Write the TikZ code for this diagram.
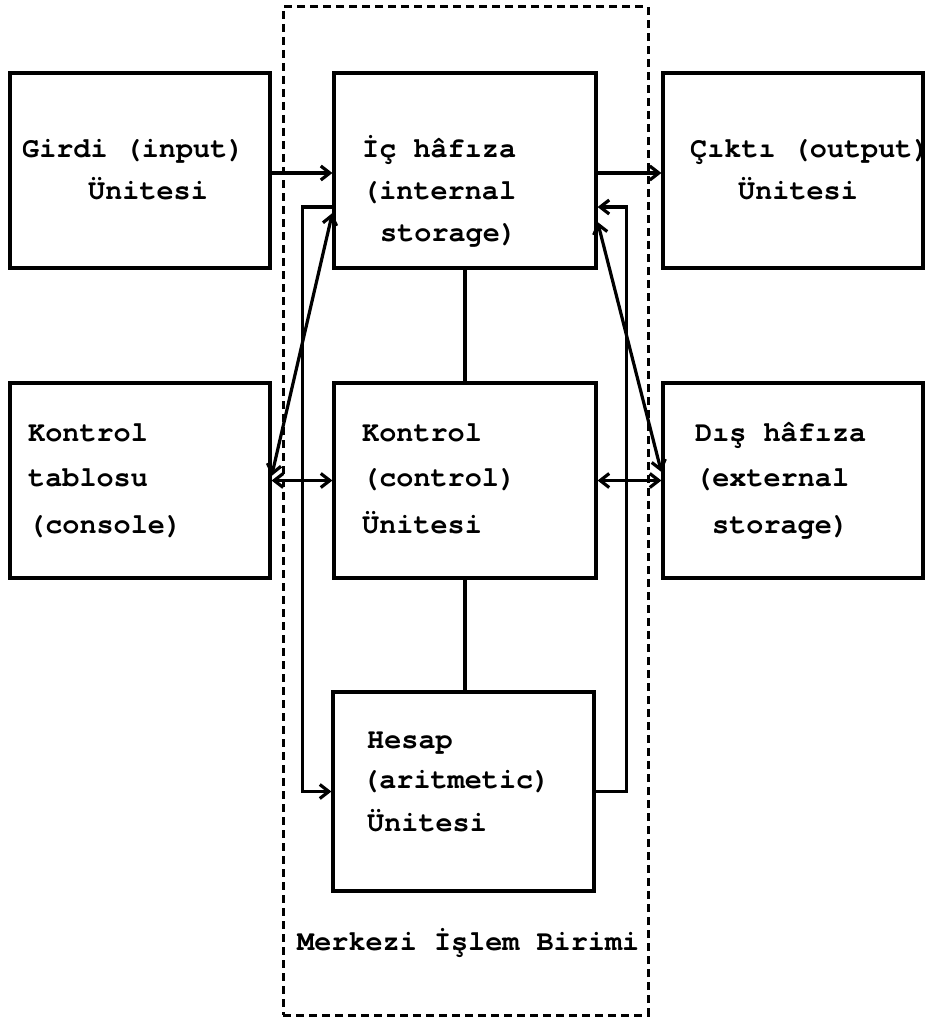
\documentclass[tikz,border=0pt]{standalone}
\usepackage{fontspec}
\newfontfamily\twfont{texgyrecursor-bold.otf}
\usetikzlibrary{arrows.meta}
\begin{document}
\begin{tikzpicture}[x=1pt,y=-1pt,
  box/.style={draw, line width=3.2pt, minimum width=260pt, minimum height=195pt, inner sep=0pt},
  txt/.style={anchor=base west, inner sep=0pt, font=\twfont\fontsize{28.5}{30}\selectfont},
  conn/.style={line width=3.2pt},
  >={Straight Barb[length=9pt,width=14pt]},
  cpubox/.style={draw, line width=3pt, dash pattern=on 8pt off 5pt, inner sep=0pt, minimum width=365pt, minimum height=1008pt}]
\useasboundingbox (0,0) rectangle (929,1025);
% central processing unit frame
\node[cpubox] (cpu) at (465.5,511) {};
% boxes
\node[box] (girdi) at (140,170.5) {};
\node[box, minimum width=262pt] (ic) at (465,170.5) {};
\node[box] (cikti) at (793,170.5) {};
\node[box] (kt) at (140,480.5) {};
\node[box, minimum width=262pt] (kon) at (465,480.5) {};
\node[box] (dh) at (793,480.5) {};
\node[box, minimum width=261pt, minimum height=199pt] (hesap) at (463.5,791.5) {};
% texts
\node[txt] (t1a) at (22,157) {Girdi (input)};
\node[txt] (t1b) at (88,199) {Ünitesi};
\node[txt] (t2a) at (362,157) {İç hâfıza};
\node[txt] (t2b) at (362,199) {(internal};
\node[txt] (t2c) at (380,241) {storage)};
\node[txt] (t3a) at (690,157) {Çıktı (output)};
\node[txt] (t3b) at (738,199) {Ünitesi};
\node[txt] (t4a) at (28,441) {Kontrol};
\node[txt] (t4b) at (28,486) {tablosu};
\node[txt] (t4c) at (28,533) {(console)};
\node[txt] (t5a) at (362,441) {Kontrol};
\node[txt] (t5b) at (362,486) {(control)};
\node[txt] (t5c) at (362,533) {Ünitesi};
\node[txt] (t6a) at (695,441) {Dış hâfıza};
\node[txt] (t6b) at (695,486) {(external};
\node[txt] (t6c) at (712,533) {storage)};
\node[txt] (t7a) at (367,748) {Hesap};
\node[txt] (t7b) at (362,788) {(aritmetic)};
\node[txt] (t7c) at (367,831) {Ünitesi};
\node[txt] (tcpu) at (297,950) {Merkezi İşlem Birimi};
% connectors
\draw[conn,->] ([yshift=-2.5pt]girdi.east) -- ([yshift=-2.5pt]ic.west);
\draw[conn,->] ([yshift=-2.5pt]ic.east) -- ([yshift=-2.5pt]cikti.west);
\draw[conn] (ic.south) -- (kon.north);
\draw[conn] (kon.south) -- (kon.south |- hesap.north);
\draw[conn,<->] (kt.east) -- (kon.west);
\draw[conn,<->] (kon.east) -- (dh.west);
\draw[conn,<->] ([yshift=4.5pt]kt.east) -- ([yshift=-42.5pt]ic.west);
\draw[conn,<->] ([yshift=-51.5pt]ic.east) -- ([yshift=8.5pt]dh.west);
\draw[conn,->] ([yshift=-36.5pt]ic.west) -- ++(-30,0) |- (hesap.west);
\draw[conn,->] (hesap.east) -- ++(31,0) |- ([yshift=-36.5pt]ic.east);
\end{tikzpicture}
\end{document}
